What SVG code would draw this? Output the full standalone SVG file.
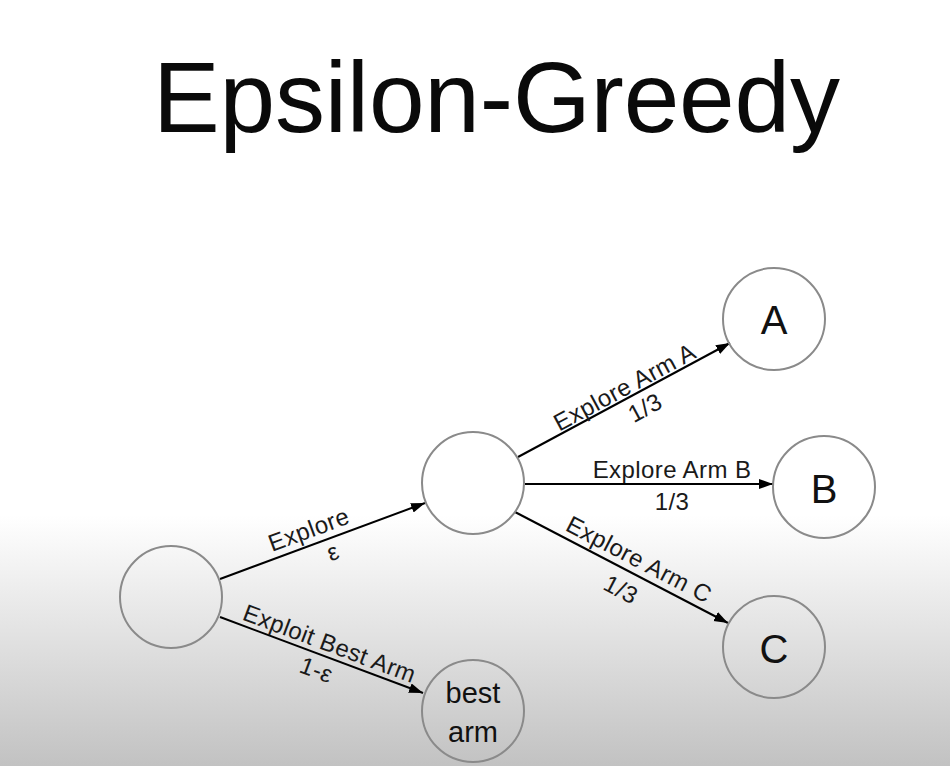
<svg xmlns="http://www.w3.org/2000/svg" width="950" height="766" viewBox="0 0 950 766">
<defs>
<linearGradient id="bg" gradientUnits="userSpaceOnUse" x1="0" y1="515" x2="0" y2="766">
<stop offset="0" stop-color="#ffffff"/>
<stop offset="1" stop-color="#c2c2c2"/>
</linearGradient>
<marker id="arr" markerUnits="userSpaceOnUse" markerWidth="16" markerHeight="12" refX="14" refY="5" orient="auto">
<path d="M0,0 L14,5 L0,10 z" fill="#000"/>
</marker>
<style>
.node{fill:none;stroke:#8a8a8a;stroke-width:2}
.edge{stroke:#000;stroke-width:2;fill:none;marker-end:url(#arr)}
.lbl{font-family:"Liberation Sans",Arial,sans-serif;font-size:24px;letter-spacing:0.4px;fill:#1a1a1a;text-anchor:middle}
.big{font-family:"Liberation Sans",Arial,sans-serif;font-size:40px;fill:#111;text-anchor:middle}
.mid{font-family:"Liberation Sans",Arial,sans-serif;font-size:29px;fill:#111;text-anchor:middle}
</style>
</defs>
<rect x="0" y="0" width="950" height="766" fill="url(#bg)"/>
<text x="153" y="132" font-family="'Liberation Sans',Arial,sans-serif" font-size="100" fill="#0a0a0a" textLength="687">Epsilon-Greedy</text>

<g id="connectors">
<line class="edge" x1="220" y1="579" x2="425" y2="503"/>
<line class="edge" x1="220" y1="617" x2="423" y2="693"/>
<line class="edge" x1="518" y1="457" x2="730" y2="343"/>
<line class="edge" x1="525" y1="484" x2="773" y2="484"/>
<line class="edge" x1="515" y1="512" x2="728" y2="623"/>
<g id="edge-labels">
<text class="lbl" transform="translate(314,544) rotate(-20.3)" y="-7">Explore</text>
<text class="lbl" transform="translate(328,539) rotate(-20.3)" y="22">ε</text>
<text class="lbl" transform="translate(325,656) rotate(20.5)" y="-5">Exploit Best Arm</text>
<text class="lbl" transform="translate(322,655) rotate(20.5)" y="24">1-ε</text>
<text class="lbl" transform="translate(630,397) rotate(-28.3)" y="-3">Explore Arm A</text>
<text class="lbl" transform="translate(637,393) rotate(-28.3)" y="25">1/3</text>
<text class="lbl" x="672" y="478">Explore Arm B</text>
<text class="lbl" x="672" y="510">1/3</text>
<text class="lbl" transform="translate(632,573) rotate(27.5)" y="-7">Explore Arm C</text>
<text class="lbl" transform="translate(630,572) rotate(27.5)" y="28">1/3</text>
</g>
</g>

<g id="node-root"><circle class="node" cx="171" cy="597" r="51"/></g>
<g id="node-explore"><circle class="node" cx="473" cy="483" r="51"/></g>
<g id="node-a"><circle class="node" cx="774" cy="319" r="51"/><text class="big" x="774" y="334">A</text></g>
<g id="node-b"><circle class="node" cx="824" cy="487" r="51"/><text class="big" x="824" y="503">B</text></g>
<g id="node-c"><circle class="node" cx="774" cy="647" r="51"/><text class="big" x="774" y="663">C</text></g>
<g id="node-best"><circle class="node" cx="473" cy="711" r="51"/><text class="mid" x="473" y="703">best</text><text class="mid" x="473" y="742">arm</text></g>
</svg>
